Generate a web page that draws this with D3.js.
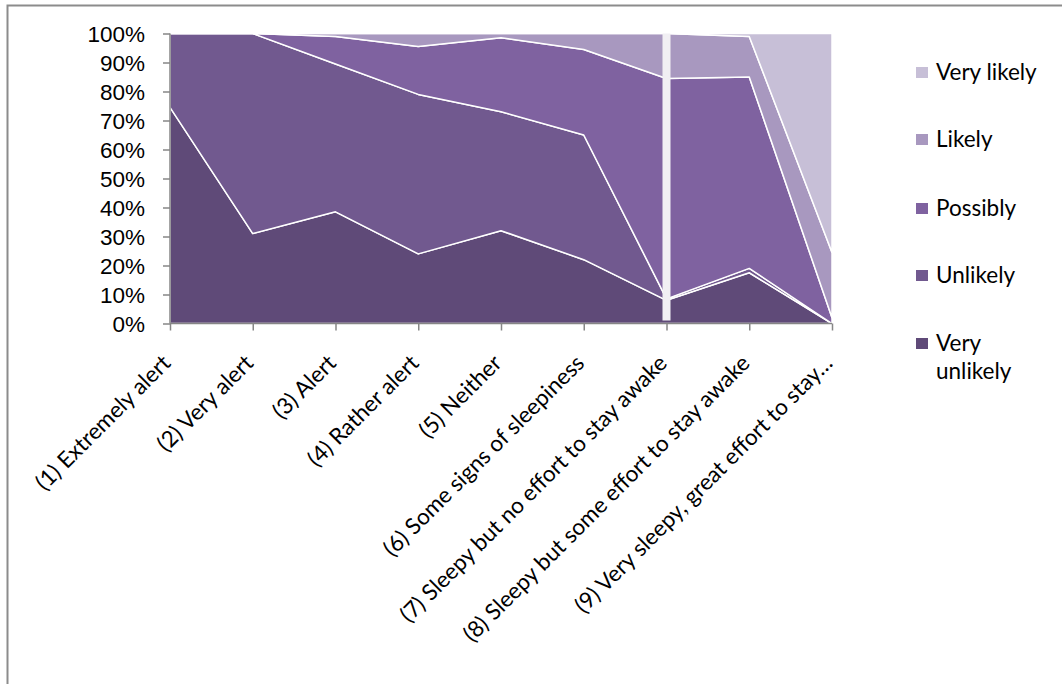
<!DOCTYPE html>
<html>
<head>
<meta charset="utf-8">
<script src="https://cdn.jsdelivr.net/npm/d3@7"></script>
<style>
  html, body { margin: 0; padding: 0; background: #fff; }
  svg { display: block; font-family: Lato, "Open Sans", sans-serif; }
</style>
</head>
<body>
<div id="root"></div>
<script>
// Categories (x axis)
const categories = [
  "(1) Extremely alert",
  "(2) Very alert",
  "(3) Alert",
  "(4) Rather alert",
  "(5) Neither",
  "(6) Some signs of sleepiness",
  "(7) Sleepy but no effort to stay awake",
  "(8) Sleepy but some effort to stay awake",
  "(9) Very sleepy, great effort to stay…",
];

// Series (stacked, percent)
const seriesNames = ["Very unlikely", "Unlikely", "Possibly", "Likely", "Very likely"];
const veryUnlikely = [74.5, 31, 38.5, 24, 32, 22, 8, 17.5, 0];
const unlikely = [25.5, 69, 51, 55, 41, 43, 0.5, 1.5, 0];
const possibly = [0, 0, 9.5, 16.5, 25.5, 29.5, 76, 66, 2];
const likely = [0, 0, 1, 4.5, 1.5, 5.5, 15.5, 14, 22.5];
const veryLikely = [0, 0, 0, 0, 0, 0, 0, 1, 75.5];

const yTicks = [0, 10, 20, 30, 40, 50, 60, 70, 80, 90, 100];
const markedCategory = ["(7) Sleepy but no effort to stay awake"];

const colors = ["#5f4a78", "#71598f", "#7f62a0", "#a898bf", "#c7bfd7"];

// Build rows for d3.stack
const rows = categories.map((c, i) => ({
  cat: c,
  "Very unlikely": veryUnlikely[i],
  Unlikely: unlikely[i],
  Possibly: possibly[i],
  Likely: likely[i],
  "Very likely": veryLikely[i],
}));

const width = 1062;
const height = 684;
const plot = { left: 170, right: 832, top: 33.5, bottom: 323.5 };
const fontSize = "22.5px";

const svg = d3
  .select("#root")
  .append("svg")
  .attr("width", width)
  .attr("height", height);

// Outer chart border (runs off the canvas on right/bottom)
svg
  .append("rect")
  .attr("x", 7.5)
  .attr("y", 5.5)
  .attr("width", width + 20)
  .attr("height", height + 20)
  .attr("fill", "none")
  .attr("stroke", "#8c8c8c")
  .attr("stroke-width", 2);

const x = d3.scalePoint().domain(categories).range([plot.left, plot.right]);
const y = d3.scaleLinear().domain([0, 100]).range([plot.bottom, plot.top]);

const stacked = d3.stack().keys(seriesNames)(rows);

const area = d3
  .area()
  .x((d) => x(d.data.cat))
  .y0((d) => y(d[0]))
  .y1((d) => y(d[1]));

// Areas
svg
  .append("g")
  .selectAll("path")
  .data(stacked)
  .enter()
  .append("path")
  .attr("d", area)
  .attr("fill", (d, i) => colors[i])
  .attr("stroke", "#fff")
  .attr("stroke-width", 1.5)
  .attr("stroke-linejoin", "round");

// Light vertical marker at category 7
svg
  .append("g")
  .selectAll("rect")
  .data(markedCategory)
  .enter()
  .append("rect")
  .attr("x", (d) => x(d) - 4)
  .attr("y", y(100))
  .attr("width", 8)
  .attr("height", y(0) - y(100) - 3)
  .attr("fill", "#f1eff3");

// Y axis
const yAxis = d3
  .axisLeft(y)
  .tickValues(yTicks)
  .tickSize(7)
  .tickPadding(18)
  .tickFormat((d) => d + "%");

const yg = svg
  .append("g")
  .attr("transform", `translate(${plot.left},0)`)
  .call(yAxis);
yg.selectAll("path, line").attr("stroke", "#868686").attr("stroke-width", 1.5);
yg.select(".domain").attr("d", `M0,${plot.top}V${plot.bottom}`);
yg.selectAll("text")
  .attr("fill", "#000")
  .style("font-size", fontSize)
  .attr("dy", "0.36em");

// X axis
const xAxis = d3.axisBottom(x).tickSize(7).tickFormat("");
const xg = svg
  .append("g")
  .attr("transform", `translate(0,${plot.bottom})`)
  .call(xAxis);
xg.selectAll("path, line").attr("stroke", "#868686").attr("stroke-width", 1.5);
xg.select(".domain").attr("d", `M${plot.left},0H${plot.right}`);

// Rotated category labels
svg
  .append("g")
  .selectAll("text")
  .data(categories)
  .enter()
  .append("text")
  .attr("transform", (d) => `translate(${x(d) + 2},${plot.bottom + 41}) rotate(-45)`)
  .attr("text-anchor", "end")
  .style("font-size", fontSize)
  .attr("fill", "#000")
  .text((d) => d);

// Legend (top to bottom: Very likely ... Very unlikely)
const legendItems = seriesNames
  .map((name, i) => ({ name, color: colors[i] }))
  .reverse();

const legend = svg.append("g").attr("transform", "translate(916,0)");
const legendY = [72, 139, 208, 275, 343];

const items = legend
  .selectAll("g")
  .data(legendItems)
  .enter()
  .append("g")
  .attr("transform", (d, i) => `translate(0,${legendY[i]})`);

items
  .append("rect")
  .attr("x", 0)
  .attr("y", -5)
  .attr("width", 12)
  .attr("height", 11)
  .attr("fill", (d) => d.color);

items
  .append("text")
  .style("font-size", fontSize)
  .attr("fill", "#000")
  .each(function (d) {
    const words = d.name === "Very unlikely" ? ["Very", "unlikely"] : [d.name];
    d3.select(this)
      .selectAll("tspan")
      .data(words)
      .enter()
      .append("tspan")
      .attr("x", 20)
      .attr("y", (w, j) => 8 + j * 28)
      .text((w) => w);
  });
</script>
</body>
</html>
